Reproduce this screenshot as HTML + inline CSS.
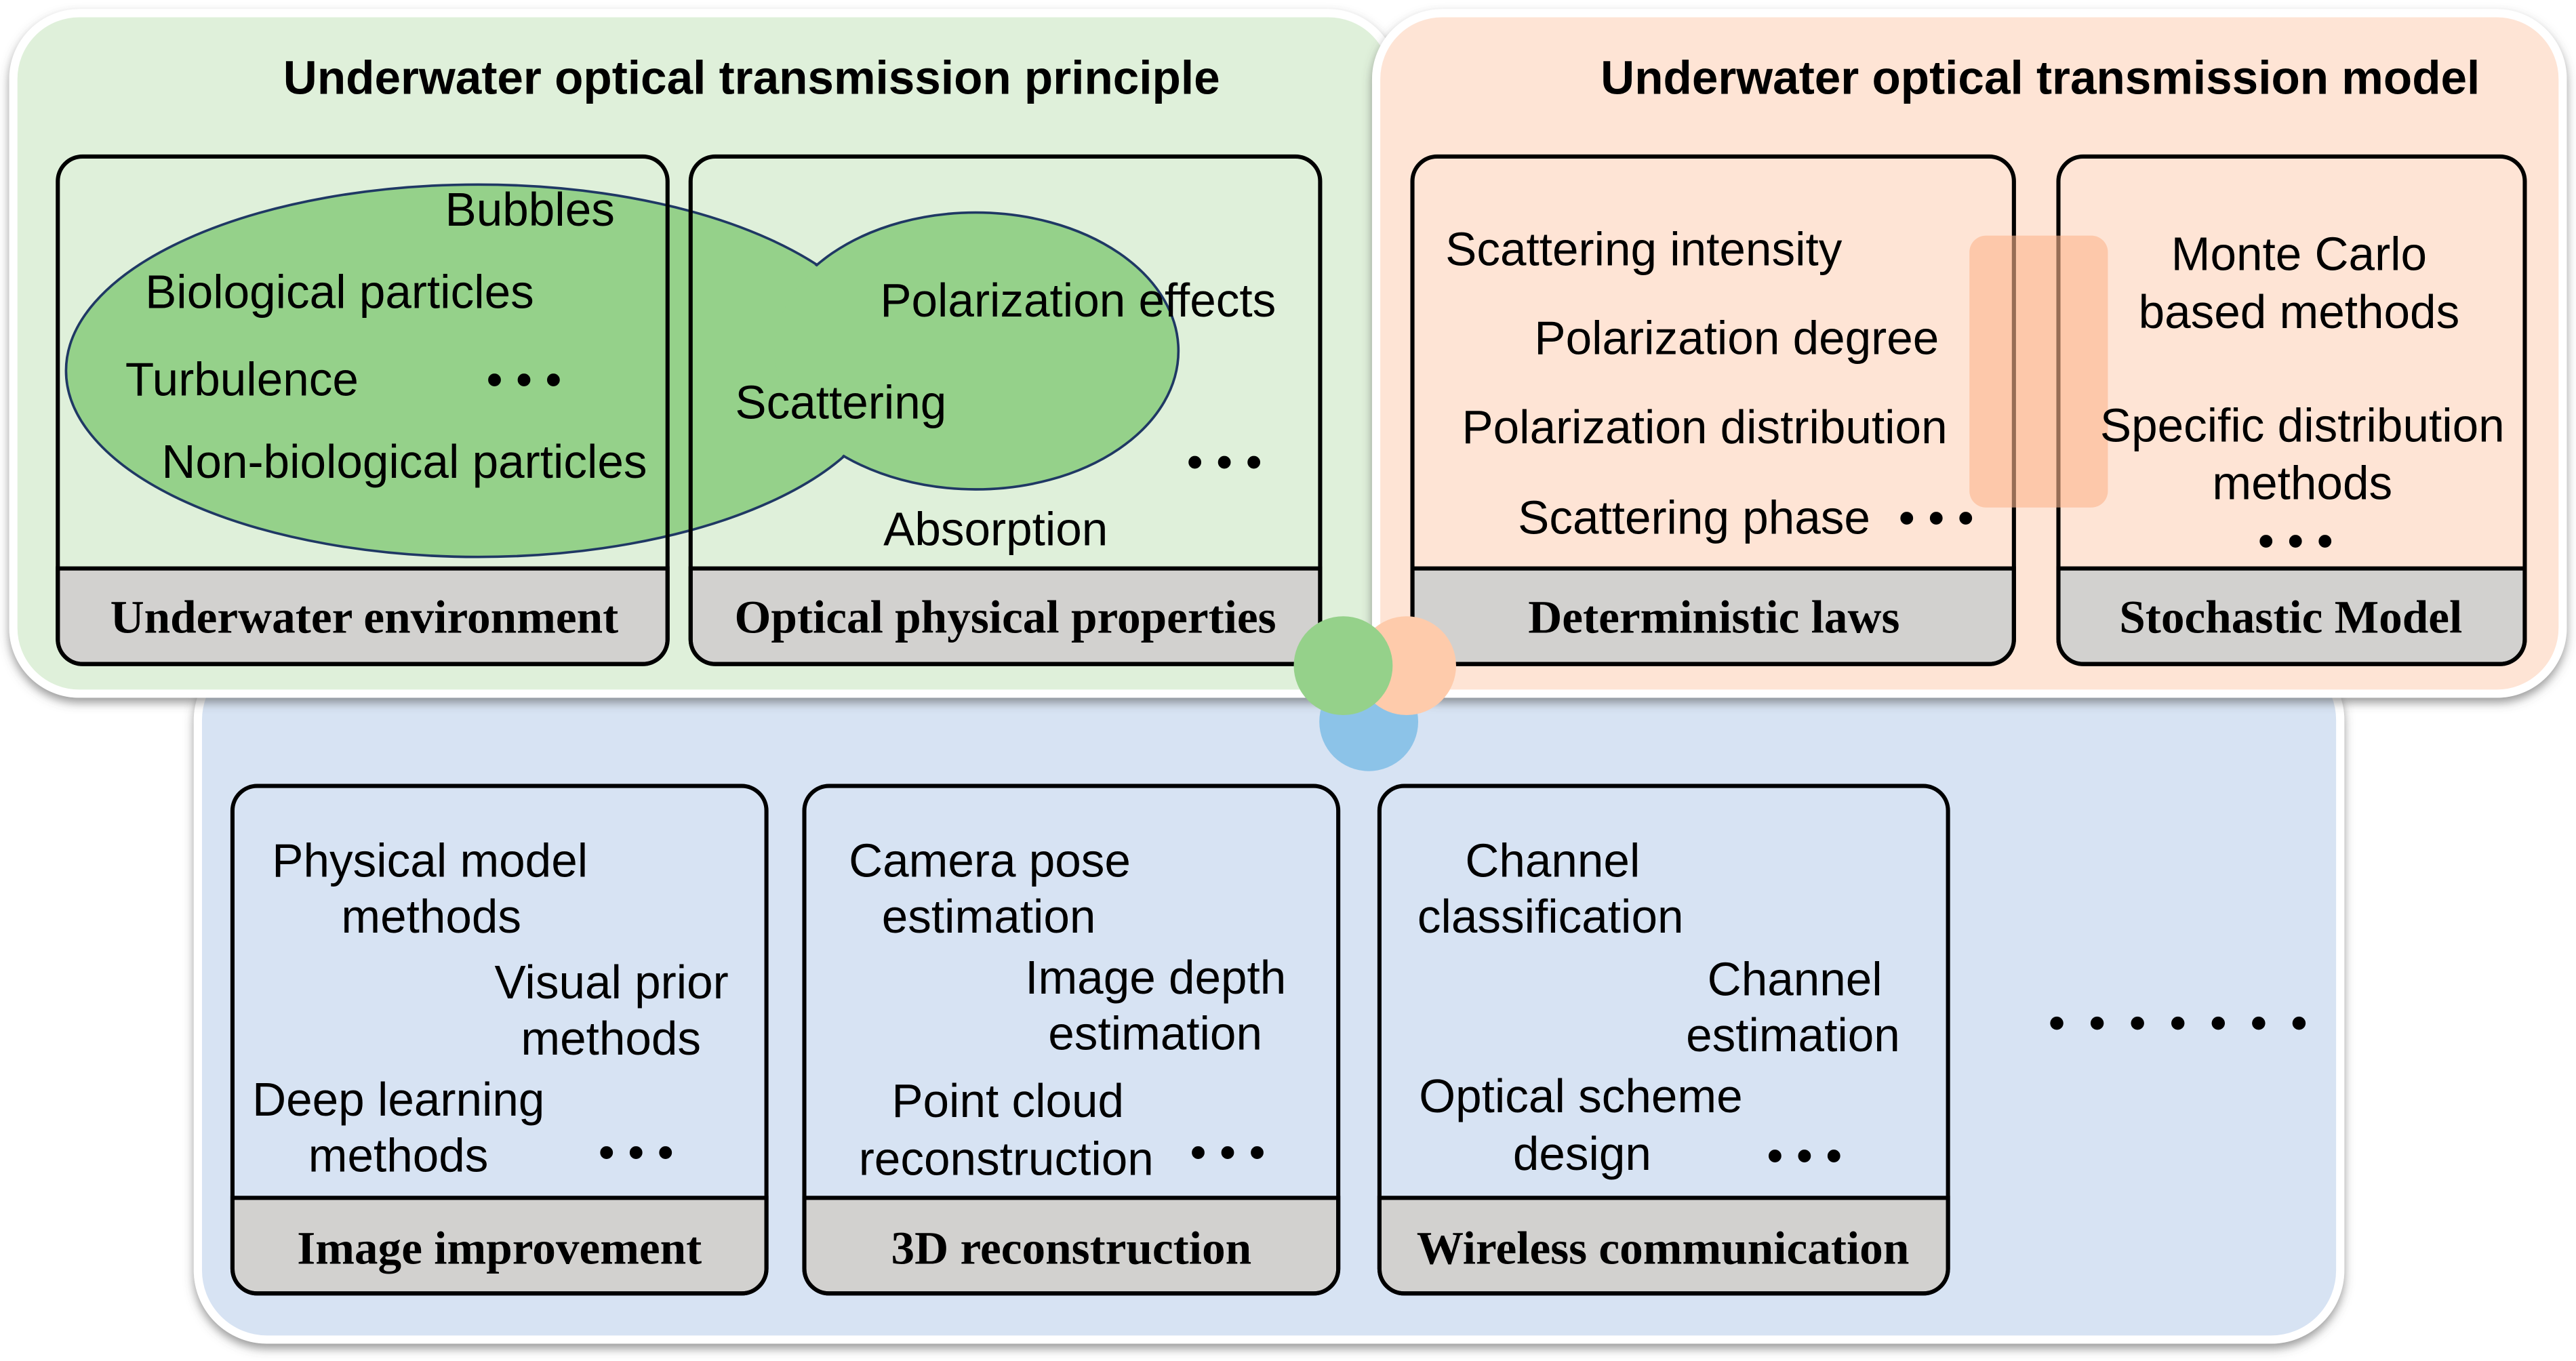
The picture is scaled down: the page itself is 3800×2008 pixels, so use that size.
<!DOCTYPE html>
<html><head><meta charset="utf-8"><style>
html,body{margin:0;padding:0;background:#fff;}
svg{display:block;}
.t{font-family:"Liberation Sans",sans-serif;font-size:28.5px;fill:#000;}
.h{font-family:"Liberation Sans",sans-serif;font-size:28.5px;font-weight:bold;fill:#000;}
.l{font-family:"Liberation Serif",serif;font-size:28.5px;font-weight:bold;fill:#000;}
</style></head><body>
<svg width="3800" height="2008" viewBox="0 0 1563 826" xmlns="http://www.w3.org/2000/svg">
<defs>
<filter id="sh" x="-5%" y="-5%" width="110%" height="115%"><feDropShadow dx="0" dy="3" stdDeviation="3" flood-color="#555" flood-opacity="0.6"/></filter>
</defs>
<rect width="1563" height="826" fill="#fff"/>
<rect x="120" y="395" width="1300" height="418" rx="42" fill="#d7e3f3" stroke="#fff" stroke-width="5" filter="url(#sh)"/>
<rect x="8" y="8" width="838" height="413" rx="40" fill="#dff0da" stroke="#fff" stroke-width="5" filter="url(#sh)"/>
<rect x="835" y="8" width="720" height="413" rx="40" fill="#fee4d5" stroke="#fff" stroke-width="5" filter="url(#sh)"/>

<text class="h" x="456" y="57" text-anchor="middle">Underwater optical transmission principle</text>
<text class="h" x="1238" y="57" text-anchor="middle">Underwater optical transmission model</text>

<g fill="#95d18a" stroke="#1f3864" stroke-width="1.5">
<ellipse cx="290" cy="225" rx="250" ry="113"/>
<ellipse cx="592" cy="213" rx="123" ry="84"/>
</g>
<g fill="#95d18a">
<ellipse cx="290" cy="225" rx="249" ry="112"/>
<ellipse cx="592" cy="213" rx="122" ry="83"/>
</g>

<g stroke="#000" stroke-width="2.5">
<path d="M35,345 H405 V388 a15,15 0 0 1 -15,15 H50 a15,15 0 0 1 -15,-15Z" fill="#d2d1cf"/>
<rect x="35" y="95" width="370" height="308" rx="15" fill="none"/>
<path d="M419,345 H801 V388 a15,15 0 0 1 -15,15 H434 a15,15 0 0 1 -15,-15Z" fill="#d2d1cf"/>
<rect x="419" y="95" width="382" height="308" rx="15" fill="none"/>
<path d="M857,345 H1222 V388 a15,15 0 0 1 -15,15 H872 a15,15 0 0 1 -15,-15Z" fill="#d2d1cf"/>
<rect x="857" y="95" width="365" height="308" rx="15" fill="none"/>
<path d="M1249,345 H1532 V388 a15,15 0 0 1 -15,15 H1264 a15,15 0 0 1 -15,-15Z" fill="#d2d1cf"/>
<rect x="1249" y="95" width="283" height="308" rx="15" fill="none"/>
</g>
<rect x="1195" y="143" width="84" height="165" rx="10" fill="#fbb68e" opacity="0.6"/>

<g stroke="#000" stroke-width="2.5">
<path d="M141,727 H465 V770 a15,15 0 0 1 -15,15 H156 a15,15 0 0 1 -15,-15Z" fill="#d2d1cf"/>
<rect x="141" y="477" width="324" height="308" rx="15" fill="none"/>
<path d="M488,727 H812 V770 a15,15 0 0 1 -15,15 H503 a15,15 0 0 1 -15,-15Z" fill="#d2d1cf"/>
<rect x="488" y="477" width="324" height="308" rx="15" fill="none"/>
<path d="M837,727 H1182 V770 a15,15 0 0 1 -15,15 H852 a15,15 0 0 1 -15,-15Z" fill="#d2d1cf"/>
<rect x="837" y="477" width="345" height="308" rx="15" fill="none"/>
</g>

<circle cx="830.5" cy="438" r="30" fill="#8cc3e8"/>
<circle cx="853.5" cy="404" r="30" fill="#fecbab"/>
<circle cx="815" cy="404" r="30" fill="#95d18a"/>

<text class="l" x="221" y="384" text-anchor="middle">Underwater environment</text>
<text class="l" x="610" y="384" text-anchor="middle">Optical physical properties</text>
<text class="l" x="1040" y="384" text-anchor="middle">Deterministic laws</text>
<text class="l" x="1390" y="384" text-anchor="middle">Stochastic Model</text>
<text class="l" x="303" y="767" text-anchor="middle">Image improvement</text>
<text class="l" x="650" y="767" text-anchor="middle">3D reconstruction</text>
<text class="l" x="1009" y="767" text-anchor="middle">Wireless communication</text>

<g class="t">
<text x="270" y="137">Bubbles</text>
<text x="88" y="187">Biological particles</text>
<text x="76" y="240">Turbulence</text>
<text x="295" y="240">• • •</text>
<text x="98" y="290">Non-biological particles</text>
<text x="534" y="192">Polarization effects</text>
<text x="446" y="254">Scattering</text>
<text x="720" y="290">• • •</text>
<text x="536" y="331">Absorption</text>

<text x="877" y="161">Scattering intensity</text>
<text x="931" y="215">Polarization degree</text>
<text x="887" y="269">Polarization distribution</text>
<text x="921" y="324">Scattering phase</text>
<text x="1152" y="324">• • •</text>
<text x="1395" y="164" text-anchor="middle">Monte Carlo</text>
<text x="1395" y="199" text-anchor="middle">based methods</text>
<text x="1397" y="268" text-anchor="middle">Specific distribution</text>
<text x="1397" y="303" text-anchor="middle">methods</text>
<text x="1370" y="338">• • •</text>

<text x="165" y="532">Physical model</text>
<text x="207" y="566">methods</text>
<text x="300" y="606">Visual prior</text>
<text x="316" y="640">methods</text>
<text x="153" y="677">Deep learning</text>
<text x="187" y="711">methods</text>
<text x="363" y="709">• • •</text>

<text x="515" y="532">Camera pose</text>
<text x="535" y="566">estimation</text>
<text x="622" y="603">Image depth</text>
<text x="636" y="637">estimation</text>
<text x="541" y="678">Point cloud</text>
<text x="521" y="713">reconstruction</text>
<text x="722" y="709">• • •</text>

<text x="889" y="532">Channel</text>
<text x="860" y="566">classification</text>
<text x="1036" y="604">Channel</text>
<text x="1023" y="638">estimation</text>
<text x="861" y="675">Optical scheme</text>
<text x="918" y="710">design</text>
<text x="1072" y="711">• • •</text>
</g>
<g fill="#000">
<circle cx="1248" cy="621" r="4"/><circle cx="1272.5" cy="621" r="4"/><circle cx="1297" cy="621" r="4"/><circle cx="1321.5" cy="621" r="4"/><circle cx="1346" cy="621" r="4"/><circle cx="1370.5" cy="621" r="4"/><circle cx="1395" cy="621" r="4"/>
</g>
</svg>
</body></html>
